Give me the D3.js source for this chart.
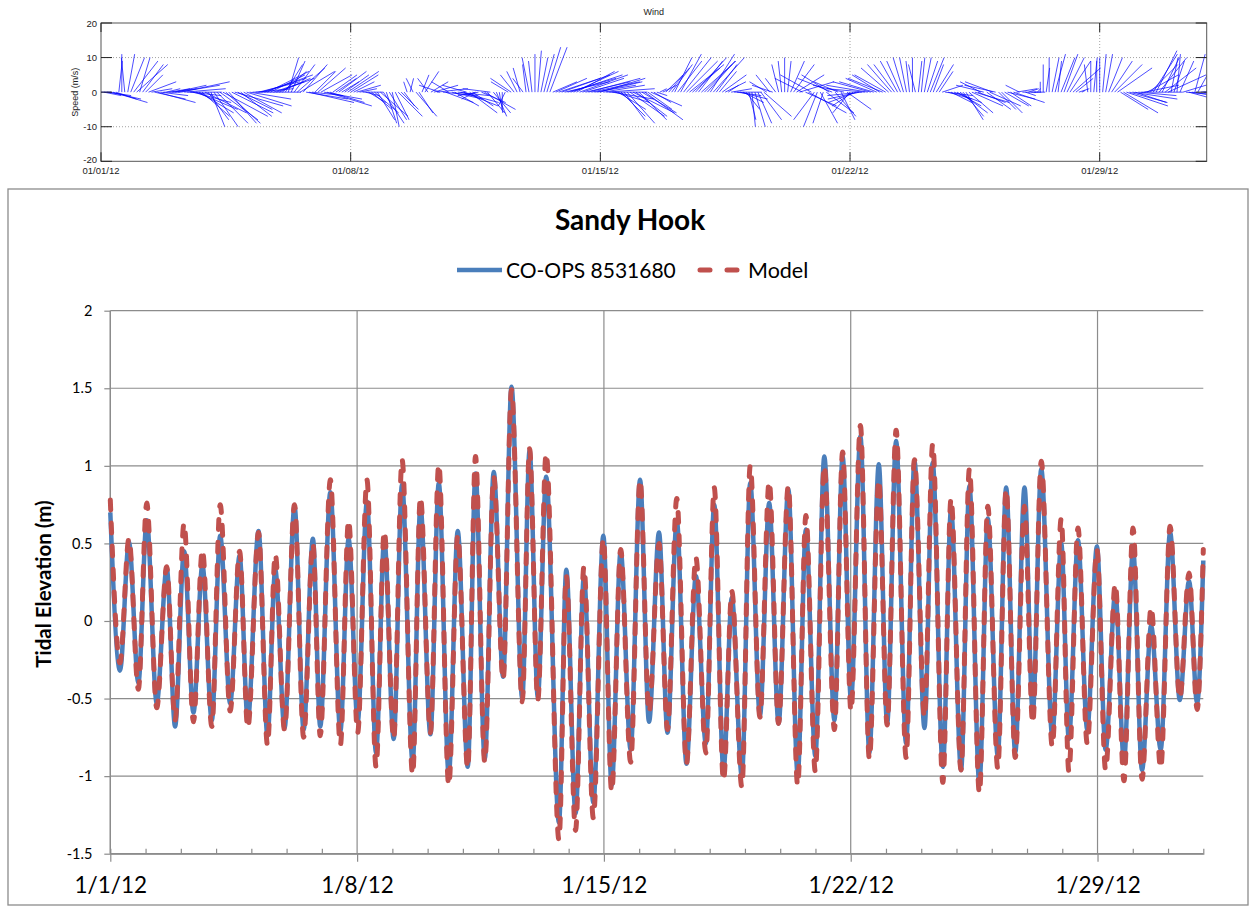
<!DOCTYPE html>
<html>
<head>
<meta charset="utf-8">
<script src="https://cdn.jsdelivr.net/npm/d3@7"></script>
<style>
  body { margin: 0; background: #fff; }
  svg { display: block; }
</style>
</head>
<body>
<div id="chart"></div>
<script>
// wind components (m/s), one stick every 2 hours from 01/01/12 00:00, one row per day
var windU = [
  3,5,7,9,10,6,1,0,-1,2,4,7,
  9,3,6,5,8,6,9,11,8,5,4,6,
  7,9,12,14,12,10,9,11,12,10,8,12,
  6,4,7,9,11,13,10,8,12,14,10,9,
  11,13,12,14,11,12,13,14,12,10,9,11,
  9,7,5,3,4,6,8,10,7,12,13,9,
  6,8,9,11,13,10,7,6,8,5,7,9,
  8,6,7,5,6,4,5,6,7,5,8,6,
  3,5,2,4,7,5,3,-1,1,-2,6,4,
  2,4,-3,5,7,9,-6,10,8,-5,9,7,
  9,11,10,-7,8,6,-4,-6,7,9,5,-8,
  5,3,1,0,-2,-5,-6,-4,-3,-2,-3,-1,
  -2,-1,0,1,2,3,4,5,7,9,12,14,
  13,14,15,13,11,14,12,13,15,14,12,13,
  13,12,14,11,12,10,8,7,6,8,10,12,
  9,8,10,11,7,9,5,3,2,4,5,6,
  6,5,7,6,8,9,10,8,9,7,10,8,
  8,7,9,6,5,7,6,3,6,8,7,8,
  6,4,2,1,3,4,6,8,-5,-4,-6,-3,
  -2,-1,0,1,4,6,8,10,-8,9,11,-9,
  -6,-4,5,-3,8,-8,-10,6,-7,4,-9,7,
  -5,-6,-8,-9,-10,-11,-12,-11,-10,-9,-8,-10,
  -9,-8,-7,-6,-5,-4,-3,-2,-1,0,-2,1,
  1,2,3,4,3,5,4,6,8,7,6,8,
  7,8,6,5,7,9,10,8,-6,-8,7,9,
  -8,-9,5,6,7,8,6,9,6,-4,4,3,
  3,4,2,1,0,0,1,0,2,3,1,4,
  4,5,6,8,5,3,1,0,-1,0,1,0,
  0,1,2,4,6,8,10,8,10,12,11,13,
  9,11,12,10,9,8,7,6,8,5,9,11,
  2,3,1,4,10,12,11,13,3,5,12,8
];
var windV = [
  0,-1,-1,-2,-3,-2,9,11,10,11,10,9,
  8,10,8,5,3,1,-2,-3,-1,0,1,1,
  1,2,2,3,1,0,-1,-3,-5,-6,-7,-6,
  -8,-10,-10,-9,-8,-7,-9,-9,-6,-4,-5,-7,
  -6,-4,-2,0,1,3,4,5,6,5,3,4,
  4,6,8,10,9,8,7,6,8,-2,-3,-1,
  6,7,5,-2,-4,-3,5,4,6,3,5,6,
  5,3,2,1,0,-1,-3,-5,-6,-8,-7,-9,
  -9,-8,-10,-8,-7,-5,-4,3,4,4,-7,-6,
  5,6,4,3,2,1,2,-1,-3,3,-2,-4,
  -1,-3,-4,2,-6,-4,-2,-1,-3,-5,-6,1,
  -6,-7,-6,-5,-4,3,4,5,6,7,4,8,
  10,9,11,12,10,11,13,13,3,4,4,5,
  3,4,5,6,6,5,4,3,4,3,2,3,
  4,2,1,0,-2,-3,-5,-7,-8,-9,-7,-6,
  -7,-8,-6,-8,-5,-4,-3,-1,1,2,5,7,
  8,10,9,11,10,9,8,7,10,9,9,8,
  9,11,10,8,6,5,3,2,1,0,-1,-2,
  -3,-5,-8,-10,-10,-9,-8,-7,3,5,2,4,
  8,9,10,9,9,8,5,3,4,-4,-6,5,
  -8,-10,-9,-9,-6,5,4,-7,3,-8,2,-5,
  -6,-4,-3,-2,-1,1,2,3,3,4,5,4,
  5,7,8,8,9,9,10,10,9,10,8,9,
  10,10,9,10,8,8,6,2,-1,-2,-3,-3,
  -4,-6,-7,-8,-6,-4,-3,-3,3,2,-5,-4,
  3,2,-5,-6,-4,-2,-4,-3,1,2,0,-1,
  1,0,0,1,3,8,7,10,10,11,9,10,
  11,10,9,7,4,1,0.5,0,8,9,10,9,
  10,11,11,10,9,8,7,-5,-6,-4,-3,-2,
  -3,-1,0,2,5,8,11,12,10,10,7,5,
  10,9,11,9,3,-1,-3,-2,11,9,1,-2
];

// high / low water turning points (hours after 1/1/12 00:00) and levels (m)
var tideHours = [
  0,6.6,12.7,19.1,24.8,31.6,38.4,44.1,50.2,56.6,62.7,69.1,74.8,81.6,88,93.6,100.9,107,112.3,118.6,
  125.4,131.6,137.9,142.9,149.8,156.6,162.2,168.4,174.7,180.9,186.5,192.9,198.6,205.8,211.1,217.9,223.6,230.4,236.5,243.3,
  248.6,254.9,261,267.4,273.1,280.4,285.4,291,296.7,305.4,310.4,316.7,322.4,328.8,335.6,341.3,347.4,354.2,360.6,366.7,
  373.5,379.3,385.6,392.2,398.6,405.4,411.1,417.4,423.1,429.9,435.6,442.2,448.5,454.9,461.5,467.9,473.5,479.9,486,492.9,
  498.5,504.2,510.6,516.7,523.1,528.8,534.9,541.7,547.4,554.2,559.8,566.7,572.3,579.1,584.8,591.6,597.3,604.1,609.8,616,
  622.3,627.9,633.7,641.2,647.3,652.5,658.7,665,671.6,677.5,684.1,690,696.2,702.3,708.5,715,721.4,728,734.3,739.8,744
];
var obsLevel = [
  0.70,-0.32,0.51,-0.40,0.65,-0.53,0.34,-0.68,0.45,-0.59,0.36,-0.64,0.55,-0.53,0.42,-0.64,0.58,-0.74,0.33,-0.69,
  0.74,-0.70,0.53,-0.68,0.83,-0.71,0.53,-0.65,0.77,-0.85,0.53,-0.76,0.88,-0.91,0.74,-0.73,0.89,-0.99,0.58,-0.94,
  0.95,-0.89,0.96,-0.36,1.51,-0.50,1.10,-0.49,0.93,-1.30,0.33,-1.24,0.29,-1.17,0.55,-1.06,0.45,-0.83,0.91,-0.65,
  0.57,-0.72,0.65,-0.92,0.29,-0.79,0.75,-0.96,0.15,-1.00,0.89,-0.61,0.76,-0.66,0.85,-0.99,0.59,-0.87,1.06,-0.64,
  1.06,-0.51,1.19,-0.85,1.01,-0.66,1.16,-0.79,1.03,-0.69,1.02,-0.94,0.72,-0.96,0.87,-1.05,0.66,-0.87,0.86,-0.85,
  0.86,-0.59,0.98,-0.74,0.50,-0.76,0.52,-0.70,0.48,-0.83,0.18,-0.90,0.46,-0.96,-0.03,-0.83,0.57,-0.51,0.26,-0.53,0.39
];
var modelLevel = [
  0.78,-0.27,0.53,-0.44,0.76,-0.56,0.35,-0.64,0.63,-0.65,0.46,-0.68,0.75,-0.58,0.45,-0.69,0.57,-0.80,0.43,-0.70,
  0.75,-0.75,0.50,-0.74,0.91,-0.80,0.65,-0.72,0.91,-0.94,0.58,-0.76,1.04,-0.99,0.80,-0.72,1.01,-1.06,0.55,-0.95,
  1.06,-0.91,0.93,-0.38,1.49,-0.52,1.11,-0.51,1.08,-1.41,0.29,-1.35,0.35,-1.27,0.53,-1.10,0.46,-0.91,0.91,-0.59,
  0.50,-0.70,0.79,-0.92,0.41,-0.85,0.86,-1.03,0.19,-1.07,1.00,-0.62,0.90,-0.66,0.87,-1.06,0.68,-0.97,1.00,-0.70,
  1.09,-0.58,1.26,-0.89,0.91,-0.67,1.23,-0.88,1.04,-0.62,1.14,-1.04,0.79,-0.96,0.98,-1.11,0.74,-0.95,0.85,-0.88,
  0.74,-0.66,1.03,-0.81,0.66,-0.97,0.60,-0.79,0.46,-0.96,0.24,-1.03,0.60,-1.02,0.09,-0.95,0.61,-0.50,0.31,-0.57,0.46
];

var windTickLabels = ["01/01/12", "01/08/12", "01/15/12", "01/22/12", "01/29/12"];
var tideTickLabels = ["1/1/12", "1/8/12", "1/15/12", "1/22/12", "1/29/12"];
var speedTicks = [-20, -10, 0, 10, 20];
var elevTicks = [-1.5, -1, -0.5, 0, 0.5, 1, 1.5, 2];
var seriesNames = ["CO-OPS 8531680", "Model"];

var start = new Date(2012, 0, 1), end = new Date(2012, 1, 1);
var weekDates = d3.timeDay.every(7).range(start, end);

var svg = d3.select("#chart").append("svg")
    .attr("width", 1250)
    .attr("height", 907);

// ---------- wind stick plot ----------
var wx = d3.scaleTime().domain([start, end]).range([101, 1206.7]);
var wy = d3.scaleLinear().domain([-20, 20]).range([161.3, 23]);
var pxPerMs = wy(0) - wy(1);

var wind = svg.append("g").attr("class", "wind");

svg.append("defs").append("clipPath").attr("id", "windclip")
  .append("rect")
    .attr("x", wx.range()[0]).attr("y", wy.range()[1])
    .attr("width", wx.range()[1] - wx.range()[0])
    .attr("height", wy.range()[0] - wy.range()[1]);

// dotted grid
wind.selectAll(".hgrid").data([-10, 10]).enter().append("line")
    .attr("x1", wx.range()[0]).attr("x2", wx.range()[1])
    .attr("y1", wy).attr("y2", wy)
    .attr("stroke", "#8a8a8a").attr("stroke-width", 0.8).attr("stroke-dasharray", "1,2");
wind.selectAll(".vgrid").data(weekDates.slice(1)).enter().append("line")
    .attr("x1", wx).attr("x2", wx)
    .attr("y1", wy.range()[1]).attr("y2", wy.range()[0])
    .attr("stroke", "#8a8a8a").attr("stroke-width", 0.8).attr("stroke-dasharray", "1,2");

var sticks = windU.map(function(u, i) {
  return { t: d3.timeHour.offset(start, i * 2), u: u, v: windV[i] };
});

wind.append("g").attr("clip-path", "url(#windclip)")
  .selectAll("line").data(sticks).enter().append("line")
    .attr("x1", function(d) { return wx(d.t); })
    .attr("y1", wy(0))
    .attr("x2", function(d) { return wx(d.t) + d.u * pxPerMs; })
    .attr("y2", function(d) { return wy(d.v); })
    .attr("stroke", "#0000ff")
    .attr("stroke-width", 0.7);

// box with inward ticks on all sides
wind.append("rect")
    .attr("x", wx.range()[0]).attr("y", wy.range()[1])
    .attr("width", wx.range()[1] - wx.range()[0])
    .attr("height", wy.range()[0] - wy.range()[1])
    .attr("fill", "none").attr("stroke", "#555").attr("stroke-width", 1);

wind.selectAll(".xtick").data(weekDates).enter().append("path")
    .attr("d", function(d) {
      var x = wx(d);
      return "M" + x + "," + wy.range()[0] + "v-9M" + x + "," + wy.range()[1] + "v9";
    })
    .attr("stroke", "#222").attr("stroke-width", 1);
wind.selectAll(".ytick").data(speedTicks).enter().append("path")
    .attr("d", function(d) {
      var y = wy(d);
      return "M" + wx.range()[0] + "," + y + "h11M" + wx.range()[1] + "," + y + "h-11";
    })
    .attr("stroke", "#222").attr("stroke-width", 1);

wind.selectAll(".ylab").data(speedTicks).enter().append("text")
    .attr("x", wx.range()[0] - 4)
    .attr("y", function(d) { return d === -20 ? wy(d) + 1.5 : wy(d) + 3.5; })
    .attr("text-anchor", "end")
    .style("font", "9.5px 'Liberation Sans', Arial, sans-serif")
    .attr("fill", "#222")
    .text(function(d) { return d; });

wind.selectAll(".xlab").data(weekDates).enter().append("text")
    .attr("x", wx)
    .attr("y", 174)
    .attr("text-anchor", "middle")
    .style("font", "9.5px 'Liberation Sans', Arial, sans-serif")
    .attr("fill", "#222")
    .text(function(d, i) { return windTickLabels[i]; });

wind.append("text")
    .attr("transform", "translate(77.5," + wy(0) + ") rotate(-90)")
    .attr("text-anchor", "middle")
    .style("font", "9px 'Liberation Sans', Arial, sans-serif")
    .attr("fill", "#222")
    .text("Speed (m/s)");

wind.append("text")
    .attr("x", (wx.range()[0] + wx.range()[1]) / 2)
    .attr("y", 15)
    .attr("text-anchor", "middle")
    .style("font", "9px 'Liberation Sans', Arial, sans-serif")
    .attr("fill", "#222")
    .text("Wind");

// ---------- tidal elevation chart ----------
var tide = svg.append("g").attr("class", "tide");

tide.append("rect")
    .attr("x", 8).attr("y", 189)
    .attr("width", 1240).attr("height", 716)
    .attr("fill", "#fff").attr("stroke", "#8c8c8c").attr("stroke-width", 1.3);

var tx = d3.scaleTime().domain([start, end]).range([110.3, 1203.3]);
var ty = d3.scaleLinear().domain([-1.5, 2]).range([853.7, 310.7]);
var gridColor = "#8c8c8c";

tide.selectAll(".hgrid").data(elevTicks).enter().append("line")
    .attr("x1", tx.range()[0]).attr("x2", tx.range()[1])
    .attr("y1", ty).attr("y2", ty)
    .attr("stroke", gridColor).attr("stroke-width", 1.2);
tide.selectAll(".vgrid").data(weekDates).enter().append("line")
    .attr("x1", tx).attr("x2", tx)
    .attr("y1", ty.range()[1]).attr("y2", ty.range()[0])
    .attr("stroke", gridColor).attr("stroke-width", 1.2);

var yAxis = tide.append("g")
    .attr("transform", "translate(" + tx.range()[0] + ",0)")
    .call(d3.axisLeft(ty).tickValues(elevTicks).tickSize(6).tickPadding(12)
      .tickFormat(function(d) { return String(d); }));

var xAxis = tide.append("g")
    .attr("transform", "translate(0," + ty.range()[0] + ")")
    .call(d3.axisBottom(tx).tickValues(weekDates).tickSize(8).tickPadding(15)
      .tickFormat(function(d, i) { return tideTickLabels[i]; }));

var xMinor = tide.append("g")
    .attr("transform", "translate(0," + ty.range()[0] + ")")
    .call(d3.axisBottom(tx).ticks(d3.timeDay.every(1)).tickSize(-5).tickFormat(""));
xMinor.selectAll(".tick").filter(function(d) { return d.getDate() % 7 === 1; }).remove();

[yAxis, xAxis, xMinor].forEach(function(g) {
  g.select(".domain").attr("stroke", gridColor).attr("stroke-width", 1.2);
  g.selectAll(".tick line").attr("stroke", gridColor).attr("stroke-width", 1.2);
  g.selectAll(".tick text").attr("fill", "#000").style("font-family", "Lato, 'Open Sans', sans-serif");
});
yAxis.select(".domain").attr("d", "M0," + ty.range()[0] + "V" + ty.range()[1]);
yAxis.selectAll(".tick text").style("font-size", "14.5px");
xAxis.selectAll(".tick text").style("font-size", "22.5px");
xAxis.select(".domain").attr("d", "M" + tx.range()[0] + ",0H" + tx.range()[1]);

var toPoints = function(levels) {
  return levels.map(function(v, i) {
    return { t: d3.timeMinute.offset(start, Math.round(tideHours[i] * 60)), v: v };
  });
};

var line = d3.line()
    .x(function(d) { return tx(d.t); })
    .y(function(d) { return ty(d.v); })
    .curve(d3.curveMonotoneX);

var blue = "#4a7ebb", red = "#c0504d";

tide.append("path")
    .datum(toPoints(obsLevel))
    .attr("d", line)
    .attr("fill", "none")
    .attr("stroke", blue)
    .attr("stroke-width", 4.5)
    .attr("stroke-linejoin", "round");

tide.append("path")
    .datum(toPoints(modelLevel))
    .attr("d", line)
    .attr("fill", "none")
    .attr("stroke", red)
    .attr("stroke-width", 5)
    .attr("stroke-linecap", "round")
    .attr("stroke-dasharray", "10,13");

tide.append("text")
    .attr("x", 630)
    .attr("y", 230)
    .attr("text-anchor", "middle")
    .style("font", "bold 28px Lato, 'Open Sans', sans-serif")
    .text("Sandy Hook");

tide.append("text")
    .attr("transform", "translate(51,584) rotate(-90)")
    .attr("text-anchor", "middle")
    .style("font", "bold 20.5px Lato, 'Open Sans', sans-serif")
    .text("Tidal Elevation (m)");

// legend
var legend = tide.append("g");
legend.append("line")
    .attr("x1", 457).attr("x2", 502).attr("y1", 270).attr("y2", 270)
    .attr("stroke", blue).attr("stroke-width", 4.5);
legend.append("text")
    .attr("x", 506).attr("y", 278)
    .style("font", "21px Lato, 'Open Sans', sans-serif")
    .text(seriesNames[0]);
legend.append("line")
    .attr("x1", 700).attr("x2", 738).attr("y1", 270).attr("y2", 270)
    .attr("stroke", red).attr("stroke-width", 5)
    .attr("stroke-linecap", "round").attr("stroke-dasharray", "10,17");
legend.append("text")
    .attr("x", 748).attr("y", 278)
    .style("font", "21.5px Lato, 'Open Sans', sans-serif")
    .text(seriesNames[1]);
</script>
</body>
</html>
